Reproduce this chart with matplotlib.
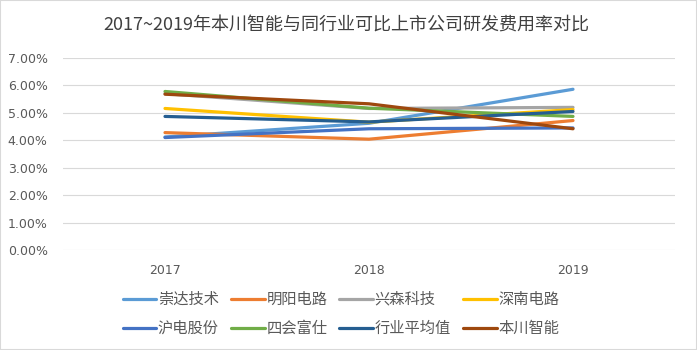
import matplotlib
matplotlib.use("Agg")
import matplotlib.pyplot as plt
from matplotlib.patches import Rectangle
from matplotlib.ticker import FuncFormatter

plt.rcParams["font.family"] = ["Noto Sans CJK SC", "DejaVu Sans"]

years = ["2017", "2018", "2019"]
companies = ["崇达技术", "明阳电路", "兴森科技", "深南电路",
             "沪电股份", "四会富仕", "行业平均值", "本川智能"]
chongda = [4.12, 4.62, 5.86]
mingyang = [4.28, 4.04, 4.72]
xingsen = [5.70, 5.16, 5.20]
shennan = [5.16, 4.66, 5.12]
hudian = [4.10, 4.42, 4.45]
sihui = [5.78, 5.17, 4.87]
industry_avg = [4.87, 4.67, 5.05]
benchuan = [5.68, 5.33, 4.42]
series = [chongda, mingyang, xingsen, shennan, hudian, sihui, industry_avg, benchuan]

COLORS = ["#5B9BD5", "#ED7D31", "#A5A5A5", "#FFC000",
          "#4472C4", "#70AD47", "#255E91", "#9E480E"]

fig = plt.figure(figsize=(6.97, 3.5), dpi=100)
ax = fig.add_axes([63 / 697, 100 / 350, 612 / 697, 192 / 350])

x = range(len(years))
lines = []
for name, vals, color in zip(companies, series, COLORS):
    ln, = ax.plot(x, [v / 100 for v in vals], color=color, linewidth=2.3,
                  label=name, solid_capstyle="round")
    lines.append(ln)

ax.set_xlim(-0.5, 2.5)
ax.set_ylim(0, 0.07)
ax.set_yticks([i / 100 for i in range(8)])
ax.yaxis.set_major_formatter(FuncFormatter(lambda v, _: f"{v * 100:.2f}%"))
ax.set_xticks(list(x))
ax.set_xticklabels(years)
ax.tick_params(axis="both", length=0, colors="#595959", labelsize=9)
ax.tick_params(axis="y", pad=11)
ax.tick_params(axis="x", pad=10)
for lab in ax.get_yticklabels() + ax.get_xticklabels():
    lab.set_family(["DejaVu Sans"])
ax.grid(axis="y", color="#d9d9d9", linewidth=0.8)
ax.set_axisbelow(True)
for s in ax.spines.values():
    s.set_visible(False)

fig.text(346 / 697, 1 - 26 / 350, "2017~2019年本川智能与同行业可比上市公司研发费用率对比",
         ha="center", va="center", fontsize=13, color="#404040")

# legend fills column-first, so reorder to read row by row like the original
order = [0, 4, 1, 5, 2, 6, 3, 7]
leg = fig.legend([lines[i] for i in order], [companies[i] for i in order],
                 loc="center", bbox_to_anchor=(341 / 697, 1 - 314 / 350), ncol=4,
                 frameon=False, fontsize=11, handlelength=2.2, handletextpad=0.1,
                 columnspacing=0.8, labelspacing=0.8)
for t in leg.get_texts():
    t.set_color("#595959")

fig.patches.append(Rectangle((0, 0), 1, 1, transform=fig.transFigure, fill=False,
                             edgecolor="#d9d9d9", linewidth=1.5))

fig.savefig("out.png", dpi=100)
plt.close(fig)
